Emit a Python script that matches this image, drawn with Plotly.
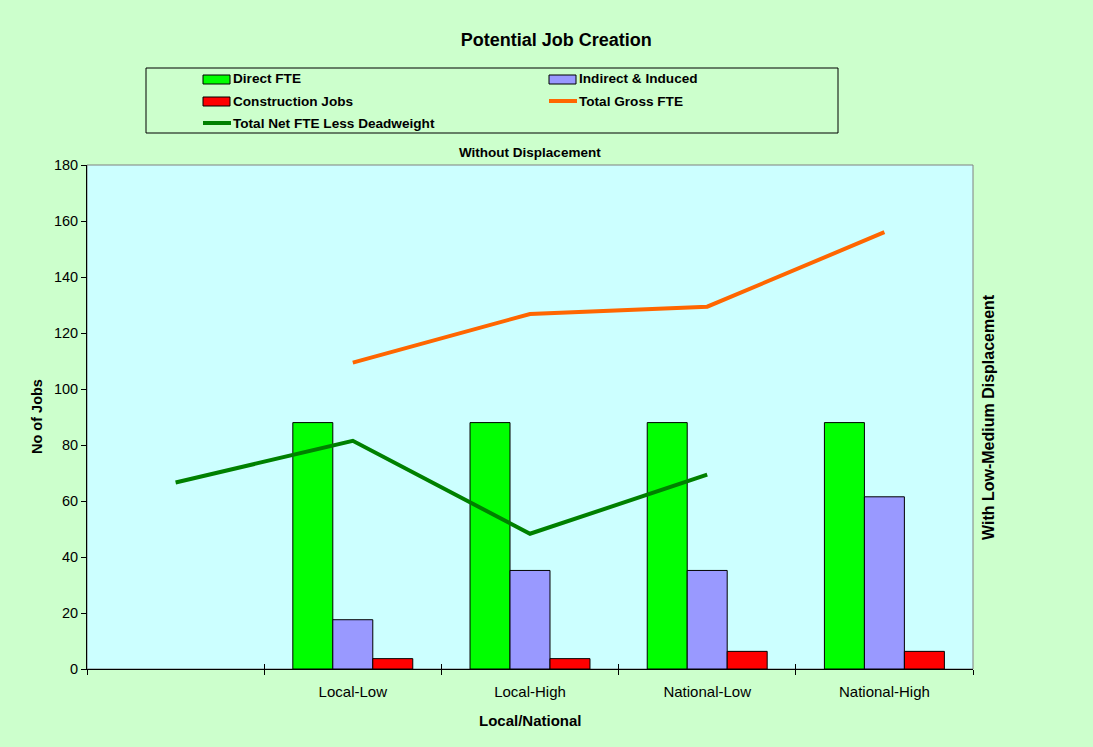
import plotly.graph_objects as go

# ---------------- data ----------------
categories = [" ", "Local-Low", "Local-High", "National-Low", "National-High"]
direct_fte = [None, 88, 88, 88, 88]
indirect_induced = [None, 17.6, 35.2, 35.2, 61.5]
construction_jobs = [None, 3.7, 3.7, 6.3, 6.3]
total_gross_fte = [None, 109.4, 126.8, 129.4, 156.0]
total_net_fte = [66.6, 81.5, 48.3, 69.4, None]

y_ticks = [0, 20, 40, 60, 80, 100, 120, 140, 160, 180]

# ---------------- layout geometry (pixels) ----------------
W, H = 1093, 747
L, R, T, B = 87, 973, 165, 669
PW, PH = R - L, B - T


def px(x):
    return (x - L) / PW


def py(y):
    return (B - y) / PH


FONT = "Liberation Sans, Arial, sans-serif"
GREEN_BG = "#CCFFCC"
CYAN_BG = "#CCFFFF"

fig = go.Figure()
fig.add_trace(go.Bar(name="Direct FTE", x=categories, y=direct_fte,
                     marker=dict(color="#00FF00", line=dict(color="black", width=1))))
fig.add_trace(go.Bar(name="Indirect & Induced", x=categories, y=indirect_induced,
                     marker=dict(color="#9999FF", line=dict(color="black", width=1))))
fig.add_trace(go.Bar(name="Construction Jobs", x=categories, y=construction_jobs,
                     marker=dict(color="#FF0000", line=dict(color="black", width=1))))
fig.add_trace(go.Scatter(name="Total Gross FTE", x=categories, y=total_gross_fte,
                         mode="lines", line=dict(color="#FF6600", width=4)))
fig.add_trace(go.Scatter(name="Total Net FTE Less Deadweight", x=categories, y=total_net_fte,
                         mode="lines", line=dict(color="#008000", width=4)))
# invisible helper trace carrying the inner half of the crossing x ticks
fig.add_trace(go.Scatter(x=categories, y=[None] * len(categories), xaxis="x2",
                         mode="lines", hoverinfo="skip", showlegend=False))

shapes = []
annotations = []

# plot area frame (grey)
shapes.append(dict(type="rect", xref="paper", yref="paper", x0=0, x1=1, y0=0, y1=1,
                   line=dict(color="#808080", width=1), fillcolor="rgba(0,0,0,0)", layer="below"))

# legend box
shapes.append(dict(type="rect", xref="paper", yref="paper",
                   x0=px(146), x1=px(838), y0=py(133), y1=py(68),
                   line=dict(color="black", width=1), fillcolor="rgba(0,0,0,0)"))

legend_items = [
    ("Direct FTE", "bar", "#00FF00", 203, 79),
    ("Indirect & Induced", "bar", "#9999FF", 549, 79),
    ("Construction Jobs", "bar", "#FF0000", 203, 101),
    ("Total Gross FTE", "line", "#FF6600", 549, 101),
    ("Total Net FTE Less Deadweight", "line", "#008000", 203, 123),
]
for name, kind, color, sx, sy in legend_items:
    if kind == "bar":
        shapes.append(dict(type="rect", xref="paper", yref="paper",
                           x0=px(sx), x1=px(sx + 27), y0=py(sy + 5), y1=py(sy - 4),
                           line=dict(color="black", width=1), fillcolor=color))
    else:
        shapes.append(dict(type="line", xref="paper", yref="paper",
                           x0=px(sx), x1=px(sx + 28), y0=py(sy), y1=py(sy),
                           line=dict(color=color, width=4)))
    annotations.append(dict(text=name, xref="paper", yref="paper", x=px(sx + 27.5), y=py(sy),
                            xanchor="left", yanchor="middle", showarrow=False,
                            font=dict(family=FONT, size=13.6, color="black", weight="bold")))

# subtitle over plot
annotations.append(dict(text="Without Displacement", xref="paper", yref="paper",
                        x=0.5, y=py(152), xanchor="center", yanchor="middle", showarrow=False,
                        font=dict(family=FONT, size=13.5, color="black", weight="bold")))
# right-hand title
annotations.append(dict(text="With Low-Medium Displacement", xref="paper", yref="paper",
                        x=px(988), y=0.5, xanchor="center", yanchor="middle", showarrow=False,
                        textangle=-90,
                        font=dict(family=FONT, size=16, color="black", weight="bold")))
# y-axis title
annotations.append(dict(text="No of Jobs", xref="paper", yref="paper",
                        x=px(37), y=0.5, xanchor="center", yanchor="middle", showarrow=False,
                        textangle=-90,
                        font=dict(family=FONT, size=14.5, color="black", weight="bold")))
# x-axis title
annotations.append(dict(text="Local/National", xref="paper", yref="paper",
                        x=0.5, y=py(720), xanchor="center", yanchor="middle", showarrow=False,
                        font=dict(family=FONT, size=15, color="black", weight="bold")))

fig.update_layout(
    width=W, height=H,
    margin=dict(l=L, r=W - R, t=T, b=H - B, pad=0),
    paper_bgcolor=GREEN_BG, plot_bgcolor=CYAN_BG,
    barmode="group", bargap=0.323, bargroupgap=0,
    showlegend=False,
    title=dict(text="Potential Job Creation", x=0.509, xanchor="center", y=1 - 40 / H,
               yanchor="middle", font=dict(family=FONT, size=18, color="black", weight="bold")),
    xaxis=dict(type="category", categoryorder="array", categoryarray=categories,
               range=[-0.5, len(categories) - 0.5],
               tickson="boundaries", ticks="outside", ticklen=5,
               tickcolor="black", showline=True, linecolor="black", linewidth=1,
               showgrid=False, zeroline=False, ticklabelstandoff=9,
               tickfont=dict(family=FONT, size=15, color="black")),
    xaxis2=dict(type="category", categoryorder="array", categoryarray=categories,
                overlaying="x", side="bottom", anchor="y",
                range=[-0.5, len(categories) - 0.5],
                tickson="boundaries", ticks="inside", ticklen=5, tickcolor="black",
                showline=False, showgrid=False, zeroline=False, showticklabels=False),
    yaxis=dict(range=[0, 180], tickvals=y_ticks, ticks="outside", ticklen=5,
               tickcolor="black", showline=True, linecolor="black", linewidth=1,
               showgrid=False, zeroline=False,
               tickfont=dict(family=FONT, size=14.5, color="black")),
    shapes=shapes,
    annotations=annotations,
)

fig.write_html("out.html")
